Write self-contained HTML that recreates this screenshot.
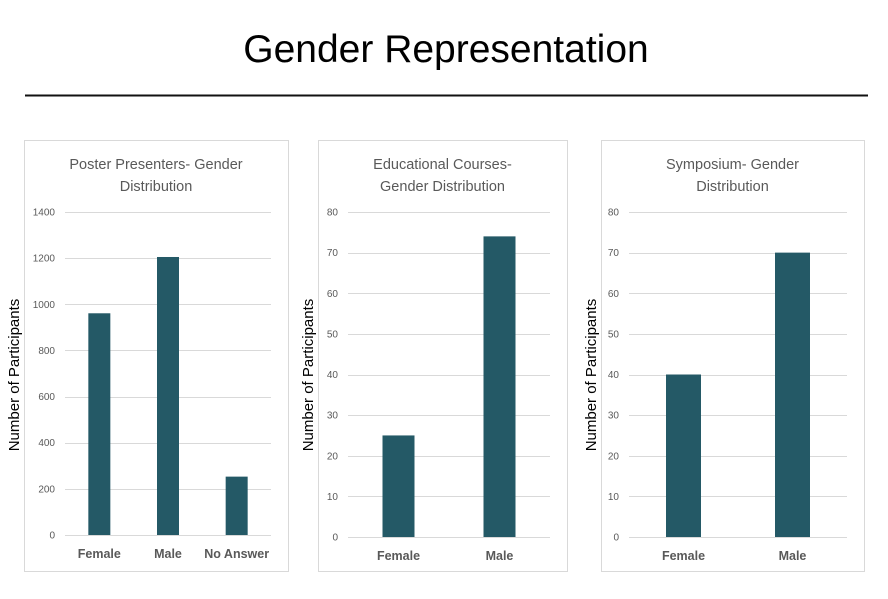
<!DOCTYPE html>
<html><head><meta charset="utf-8"><style>
body{margin:0;background:#fff;width:888px;height:594px;overflow:hidden}
svg text{font-family:"Liberation Sans",sans-serif}
</style></head><body>
<svg id="s" width="888" height="594" xmlns="http://www.w3.org/2000/svg">
<text x="446" y="62" text-anchor="middle" font-size="39" fill="#000">Gender Representation</text>
<line x1="25" y1="95.5" x2="868" y2="95.5" stroke="#111" stroke-width="2"/>
</svg>
<script>
const posterCategories=["Female","Male","No Answer"];
const posterValues=[961,1205,253];
const posterTicks=[0,200,400,600,800,1000,1200,1400];
const courseCategories=["Female","Male"];
const courseValues=[25,74];
const courseTicks=[0,10,20,30,40,50,60,70,80];
const sympCategories=["Female","Male"];
const sympValues=[40,70];
const sympTicks=[0,10,20,30,40,50,60,70,80];

const NS="http://www.w3.org/2000/svg";
const svg=document.getElementById('s');
function mk(tag,attrs,parent){const e=document.createElementNS(NS,tag);for(const k in attrs)e.setAttribute(k,attrs[k]);(parent||svg).appendChild(e);return e;}

function panel(id,box,plot,title,cats,vals,ticks,barW){
  const g=mk('g',{});
  
  
  const r=mk('rect',{x:box[0]+0.5,y:box[1]+0.5,width:box[2]-box[0],height:box[3]-box[1],fill:'#fff',stroke:'#d9d9d9'},g);
  
  
  const cx=(box[0]+box[2])/2;
  title.forEach((t,i)=>{
    const tt=mk('text',{x:cx,y:box[1]+29+i*22,'text-anchor':'middle','font-size':'14.5',fill:'#595959'},g);
    tt.textContent=t;
    
    
  });
  const [x0,x1,yb,yt]=plot;
  const max=ticks[ticks.length-1];
  const y=v=>yb-(v/max)*(yb-yt);
  ticks.forEach(tv=>{
    const l=mk('line',{x1:x0,x2:x1,y1:Math.round(y(tv))+0.5,y2:Math.round(y(tv))+0.5,stroke:'#d9d9d9'},g);
    
    
    const t=mk('text',{x:x0-10,y:y(tv)+3.5,'text-anchor':'end','font-size':'10',fill:'#595959'},g);
    t.textContent=tv;
    
    
  });
  const band=(x1-x0)/cats.length;
  cats.forEach((c,i)=>{
    const mid=x0+band*(i+0.5);
    const b=mk('rect',{x:mid-barW/2,y:y(vals[i]),width:barW,height:yb-y(vals[i]),fill:'#245966'},g);
    
    
    const t=mk('text',{x:mid,y:yb+23,'text-anchor':'middle','font-size':'12.5','font-weight':'bold',fill:'#595959'},g);
    t.textContent=c;
    
    
  });
  const ax=box[0]-5, ay=375;
  const at=mk('text',{x:ax,y:ay,transform:`rotate(-90 ${ax} ${ay})`,'text-anchor':'middle','font-size':'15',fill:'#000'},g);
  at.textContent='Number of Participants';
  
  
}
panel('poster',[24,140,288,571],[65,271,535,212],["Poster Presenters- Gender","Distribution"],posterCategories,posterValues,posterTicks,22);
panel('courses',[318,140,567,571],[348,550,537,212],["Educational Courses-","Gender Distribution"],courseCategories,courseValues,courseTicks,32);
panel('symposium',[601,140,864,571],[629,847,537,212],["Symposium- Gender","Distribution"],sympCategories,sympValues,sympTicks,35);
</script>
</body></html>
